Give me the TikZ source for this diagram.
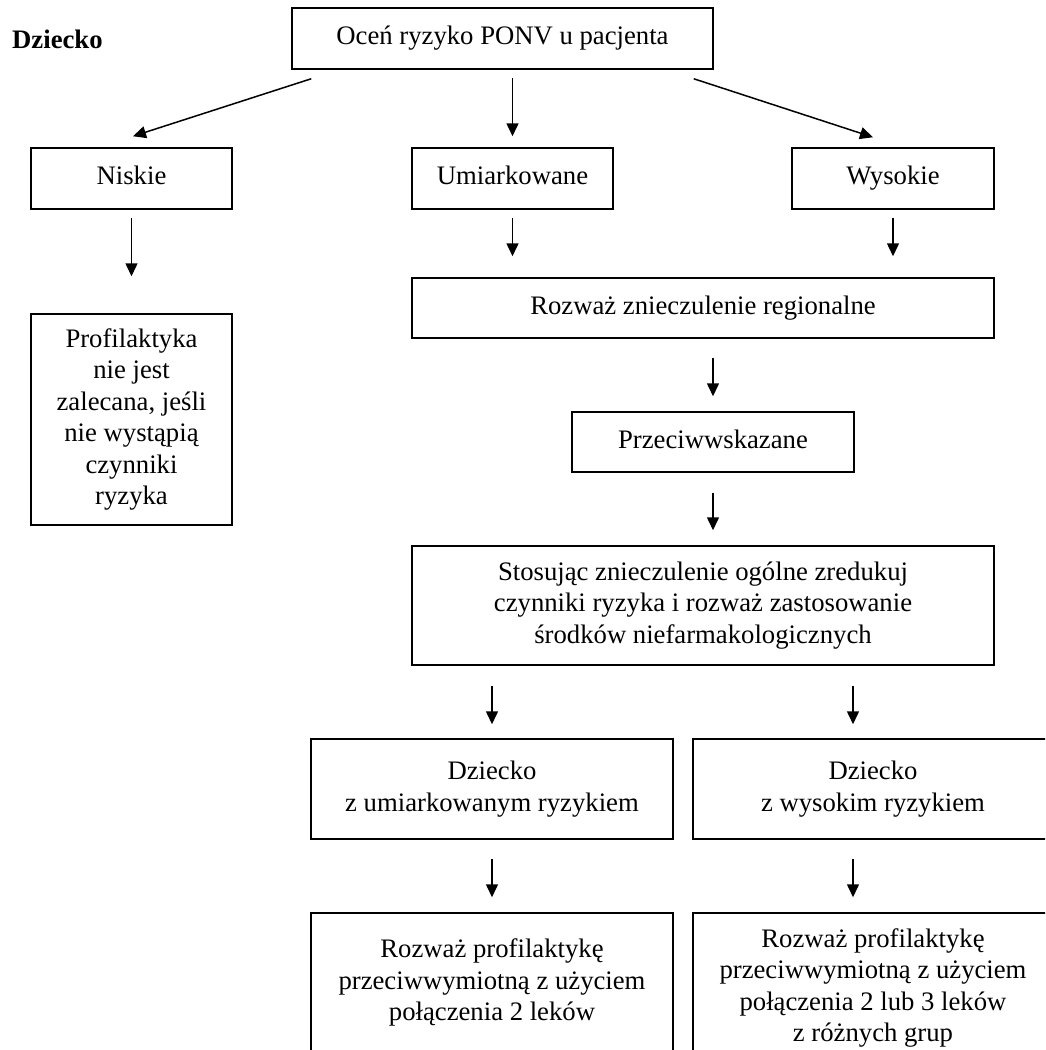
\documentclass[tikz,border=0pt]{standalone}
\usepackage{fontspec}
\setmainfont{Liberation Serif}
\usetikzlibrary{arrows.meta,calc}
\begin{document}
\begin{tikzpicture}[x=1pt,y=-1pt,
  box/.style={draw, line width=1.5pt, inner sep=0pt, align=center,
    font=\fontsize{26.7}{31.5}\selectfont},
  arr/.style={line width=1.5pt, -{Triangle[length=13pt,width=12pt]}}]
\clip (0,0) rectangle (1045,1050);
\fill[white] (0,0) rectangle (1045,1050);

\node[anchor=base west, inner sep=0pt, font=\fontsize{26.7}{31.5}\selectfont\bfseries] (lbl) at (12,48) {Dziecko};

\node[box, minimum width=421pt, minimum height=61pt] (top) at (502.5,38.5) {\strut Oceń ryzyko PONV u pacjenta};

\node[box, minimum width=201pt, minimum height=61pt] (niskie) at (131.5,178.5) {\strut Niskie};
\node[box, minimum width=201pt, minimum height=61pt] (umiar) at (512.5,178.5) {\strut Umiarkowane};
\node[box, minimum width=202pt, minimum height=61pt] (wysokie) at (893,178.5) {\strut Wysokie};

\node[box, minimum width=201pt, minimum height=211pt] (prof) at (131.5,419.5)
  {\strut Profilaktyka\\\strut nie jest\\\strut zalecana, jeśli\\\strut nie wystąpią\\\strut czynniki\\\strut ryzyka};

\node[box, minimum width=582pt, minimum height=60pt] (rozwaz) at (703,308) {\strut Rozważ znieczulenie regionalne};
\node[box, minimum width=282pt, minimum height=60pt] (przeciw) at (713,442) {\strut Przeciwwskazane};
\node[box, minimum width=582pt, minimum height=119pt] (stos) at (703,605.5)
  {\strut Stosując znieczulenie ogólne zredukuj\\\strut czynniki ryzyka i rozważ zastosowanie\\\strut środków niefarmakologicznych};

\node[box, minimum width=362pt, minimum height=100pt] (dmid) at (492,789)
  {\strut Dziecko\\\strut z umiarkowanym ryzykiem};
\node[box, minimum width=360pt, minimum height=100pt] (dhigh) at (873,789)
  {\strut Dziecko\\\strut z wysokim ryzykiem};

\node[box, minimum width=362pt, minimum height=140pt] (bleft) at (492,983)
  {\strut Rozważ profilaktykę\\\strut przeciwwymiotną z użyciem\\\strut połączenia 2 leków};
\node[box, minimum width=360pt, minimum height=150pt] (bright) at (873,988)
  {\strut Rozważ profilaktykę\\\strut przeciwwymiotną z użyciem\\\strut połączenia 2 lub 3 leków\\\strut z różnych grup};

% arrows
\draw[arr] ([xshift=20pt,yshift=-9pt]top.south west) -- ([xshift=1.5pt,yshift=11pt]niskie.north);
\draw[arr] ([xshift=-20pt,yshift=-9pt]top.south east) -- ([xshift=-20pt,yshift=10pt]wysokie.north);
\draw[arr, shorten <=8pt, shorten >=11pt] (umiar.north |- top.south) -- (umiar.north);

\draw[arr, shorten <=8pt, shorten >=37pt] (niskie.south) -- (prof.north);
\draw[arr, shorten <=8pt, shorten >=21pt] (umiar.south) -- (umiar.south |- rozwaz.north);
\draw[arr, shorten <=8pt, shorten >=21pt] (wysokie.south) -- (wysokie.south |- rozwaz.north);

\draw[arr, shorten <=19pt, shorten >=15pt] (przeciw.north |- rozwaz.south) -- (przeciw.north);
\draw[arr, shorten <=20pt, shorten >=15pt] (przeciw.south) -- (przeciw.south |- stos.north);

\draw[arr, shorten <=20pt, shorten >=14pt] (dmid.north |- stos.south) -- (dmid.north);
\draw[arr, shorten <=20pt, shorten >=14pt] ([xshift=-20pt]dhigh.north |- stos.south) -- ([xshift=-20pt]dhigh.north);

\draw[arr, shorten <=19pt, shorten >=15pt] (dmid.south) -- (bleft.north);
\draw[arr, shorten <=19pt, shorten >=15pt] ([xshift=-20pt]dhigh.south) -- ([xshift=-20pt]bright.north);
\end{tikzpicture}
\end{document}
